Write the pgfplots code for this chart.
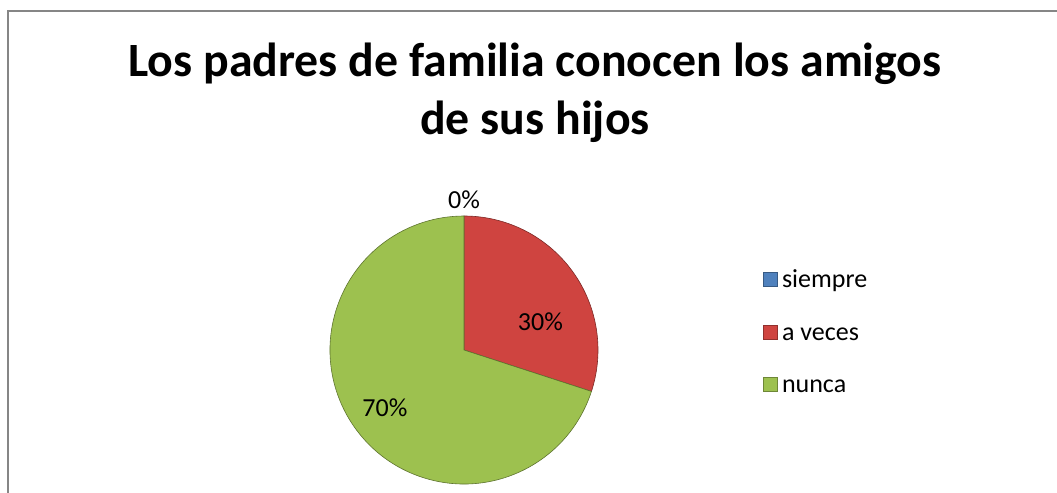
\documentclass[border=0pt]{standalone}
\usepackage{pgfplots}
\usepackage{pgfplotstable}
\pgfplotsset{compat=1.18}
\usepackage{fontspec}
\setmainfont{Carlito}
\definecolor{pieblue}{HTML}{4F81BD}
\definecolor{piered}{HTML}{CF4440}
\definecolor{piegreen}{HTML}{9DC14F}
\definecolor{framegray}{HTML}{868686}

\pgfplotstableread{
label value
siempre 0
aveces 30
nunca 70
}\piedata

\begin{document}
\begin{tikzpicture}[x=0.5pt,y=0.5pt]
\useasboundingbox (0,0) rectangle (1057,493);
\draw[framegray,line width=1pt] (8,482) rectangle (1070,-20);

\pgfplotstablegetelem{0}{value}\of\piedata \let\vA\pgfplotsretval
\pgfplotstablegetelem{1}{value}\of\piedata \let\vB\pgfplotsretval
\pgfplotstablegetelem{2}{value}\of\piedata \let\vC\pgfplotsretval
\pgfmathsetmacro\aA{90}
\pgfmathsetmacro\aB{\aA-3.6*\vA}
\pgfmathsetmacro\aC{\aB-3.6*\vB}
\pgfmathsetmacro\aD{\aC-3.6*\vC}

\begin{axis}[
  at={(232pt,71.5pt)}, anchor=center,
  width=134pt, height=134pt, scale only axis,
  xmin=-1, xmax=1, ymin=-1, ymax=1,
  hide axis, clip=false,
  legend style={draw=none, fill=none, font=\fontsize{13}{15}\selectfont,
    at={(1.615,0.567)}, anchor=west, inner sep=0pt,
    row sep=11.3pt, cells={anchor=west, text height=9.5pt, text depth=3pt}},
  legend image code/.code={\draw[#1] (0pt,-3.5pt) rectangle (7pt,3.5pt);},
]
\addlegendimage{fill=pieblue, draw=pieblue!70!black}
\addlegendentry{siempre}
\addlegendimage{fill=piered, draw=piered!70!black}
\addlegendentry{a veces}
\addlegendimage{fill=piegreen, draw=piegreen!70!black}
\addlegendentry{nunca}

\fill[piered, draw=piered!60!black, line width=0.3pt] (axis cs:0,0) -- ++(\aB:67pt) arc[start angle=\aB, end angle=\aC, radius=67pt] -- cycle;
\fill[piegreen, draw=piegreen!60!black, line width=0.3pt] (axis cs:0,0) -- ++(\aC:67pt) arc[start angle=\aC, end angle=\aD, radius=67pt] -- cycle;

\node[font=\fontsize{13}{15}\selectfont] at (axis cs:0,1.12) {0\%};
\node[font=\fontsize{13}{15}\selectfont] at (axis cs:0.57,0.21) {30\%};
\node[font=\fontsize{13}{15}\selectfont] at (axis cs:-0.59,-0.43) {70\%};
\end{axis}

\node[anchor=base, font=\fontsize{23.9}{28}\bfseries] at (535,416) {Los padres de familia conocen los amigos};
\node[anchor=base, font=\fontsize{23.9}{28}\bfseries] at (535,358) {de sus hijos};
\end{tikzpicture}
\end{document}
